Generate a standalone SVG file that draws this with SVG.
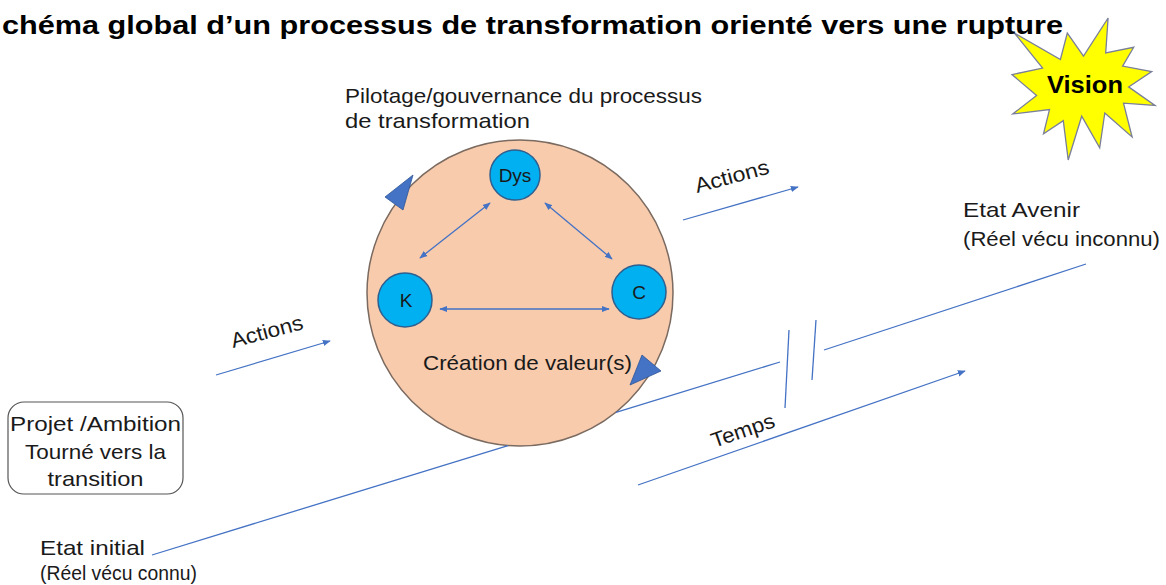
<svg xmlns="http://www.w3.org/2000/svg" width="1166" height="585" viewBox="0 0 1166 585">
<defs>
<style>
.t{font-family:"Liberation Sans",Arial,sans-serif;fill:#1a1a1a;font-size:21px}
.b{font-weight:bold;fill:#000}
.ln{stroke:#4472C4;stroke-width:1.3;fill:none}
.nd{fill:#00B0F0;stroke:#2F5F8F;stroke-width:1.5}
.tri{fill:#4472C4;stroke:#2F5597;stroke-width:0.8}
</style>
<marker id="ah" viewBox="0 0 10 10" refX="9" refY="5" markerWidth="8" markerHeight="8" orient="auto-start-reverse" markerUnits="userSpaceOnUse">
<path d="M0,1 L10,5 L0,9 z" fill="#4472C4"/>
</marker>
</defs>
<rect width="1166" height="585" fill="#ffffff"/>

<g id="vision">
<polygon points="1083.5,56.1 1067.3,33.1 1060.4,59.5 1014.4,33.1 1042.6,68.1 1012,74.6 1036.6,95.4 1012.9,113.9 1049.5,109.6 1043.5,133.8 1063.3,120.7 1068.2,160 1081.7,116.2 1099.7,147.8 1104.8,113 1132.1,137 1123.5,103.1 1155,105.4 1128.6,86.9 1151.7,71.5 1122.6,66.1 1133.7,47.3 1105.7,53 1108.1,18" fill="#FFFF00" stroke="#7A7F9A" stroke-width="1.3" stroke-linejoin="miter"/>
<text class="t b" x="1085" y="93" text-anchor="middle" textLength="76" lengthAdjust="spacingAndGlyphs" style="font-size:23px">Vision</text>
</g>

<g id="title">
<text class="t b" x="2" y="34" textLength="1061" lengthAdjust="spacingAndGlyphs" style="font-size:26px">chéma global d’un processus de transformation orienté vers une rupture</text>
</g>

<g id="pilotage-label">
<text class="t" x="345" y="103" textLength="357" lengthAdjust="spacingAndGlyphs">Pilotage/gouvernance du processus</text>
<text class="t" x="345" y="128" textLength="185" lengthAdjust="spacingAndGlyphs">de transformation</text>
</g>

<g id="process">
<circle cx="520" cy="293" r="153" fill="#F8CBAD" stroke="#7A6A60" stroke-width="1.5"/>
<polygon class="tri" points="385,197 413,175 403,210"/>
<polygon class="tri" points="642,355 661,371 630,385"/>
<text class="t" x="423" y="370" textLength="209" lengthAdjust="spacingAndGlyphs">Création de valeur(s)</text>
</g>

<g id="connectors">
<line class="ln" x1="490" y1="203" x2="420" y2="258" marker-start="url(#ah)" marker-end="url(#ah)"/>
<line class="ln" x1="545" y1="203" x2="612" y2="259" marker-start="url(#ah)" marker-end="url(#ah)"/>
<line class="ln" x1="440" y1="309" x2="609" y2="309" marker-start="url(#ah)" marker-end="url(#ah)"/>
<line class="ln" x1="216" y1="375" x2="330" y2="341" marker-end="url(#ah)"/>
<line class="ln" x1="683" y1="220" x2="798" y2="187" marker-end="url(#ah)"/>
<line class="ln" x1="638" y1="485" x2="965" y2="371" marker-end="url(#ah)"/>
<line class="ln" x1="152" y1="555" x2="508" y2="445.6"/>
<line class="ln" x1="616" y1="412.4" x2="780" y2="362"/>
<line class="ln" x1="824" y1="350" x2="1086" y2="264"/>
<line class="ln" x1="789" y1="330" x2="785" y2="408"/>
<line class="ln" x1="816" y1="320" x2="812" y2="380"/>
<text class="t" transform="translate(233,348) rotate(-15)" textLength="74" lengthAdjust="spacingAndGlyphs">Actions</text>
<text class="t" transform="translate(697,193) rotate(-15)" textLength="76" lengthAdjust="spacingAndGlyphs">Actions</text>
<text class="t" transform="translate(714,448) rotate(-19)" textLength="66" lengthAdjust="spacingAndGlyphs">Temps</text>
</g>

<g id="node-dys">
<circle class="nd" cx="515" cy="175" r="25"/>
<text class="t" x="515" y="182" text-anchor="middle" style="font-size:19px">Dys</text>
</g>
<g id="node-k">
<circle class="nd" cx="405" cy="300" r="27"/>
<text class="t" x="406" y="307" text-anchor="middle" style="font-size:19px">K</text>
</g>
<g id="node-c">
<circle class="nd" cx="639" cy="292" r="27"/>
<text class="t" x="639" y="299" text-anchor="middle" style="font-size:19px">C</text>
</g>

<g id="projet">
<rect x="8" y="402" width="175" height="92" rx="16" ry="16" fill="#ffffff" stroke="#555555" stroke-width="1.2"/>
<text class="t" x="95.5" y="431" text-anchor="middle" textLength="171" lengthAdjust="spacingAndGlyphs">Projet /Ambition</text>
<text class="t" x="95.5" y="459" text-anchor="middle" textLength="141" lengthAdjust="spacingAndGlyphs">Tourné vers la</text>
<text class="t" x="95.5" y="486" text-anchor="middle" textLength="96" lengthAdjust="spacingAndGlyphs">transition</text>
</g>

<g id="etat-initial">
<text class="t" x="40" y="555" textLength="105" lengthAdjust="spacingAndGlyphs">Etat initial</text>
<text class="t" x="40" y="580" textLength="157" lengthAdjust="spacingAndGlyphs">(Réel vécu connu)</text>
</g>

<g id="etat-avenir">
<text class="t" x="963" y="217" textLength="117" lengthAdjust="spacingAndGlyphs">Etat Avenir</text>
<text class="t" x="963" y="246" textLength="197" lengthAdjust="spacingAndGlyphs">(Réel vécu inconnu)</text>
</g>
</svg>
